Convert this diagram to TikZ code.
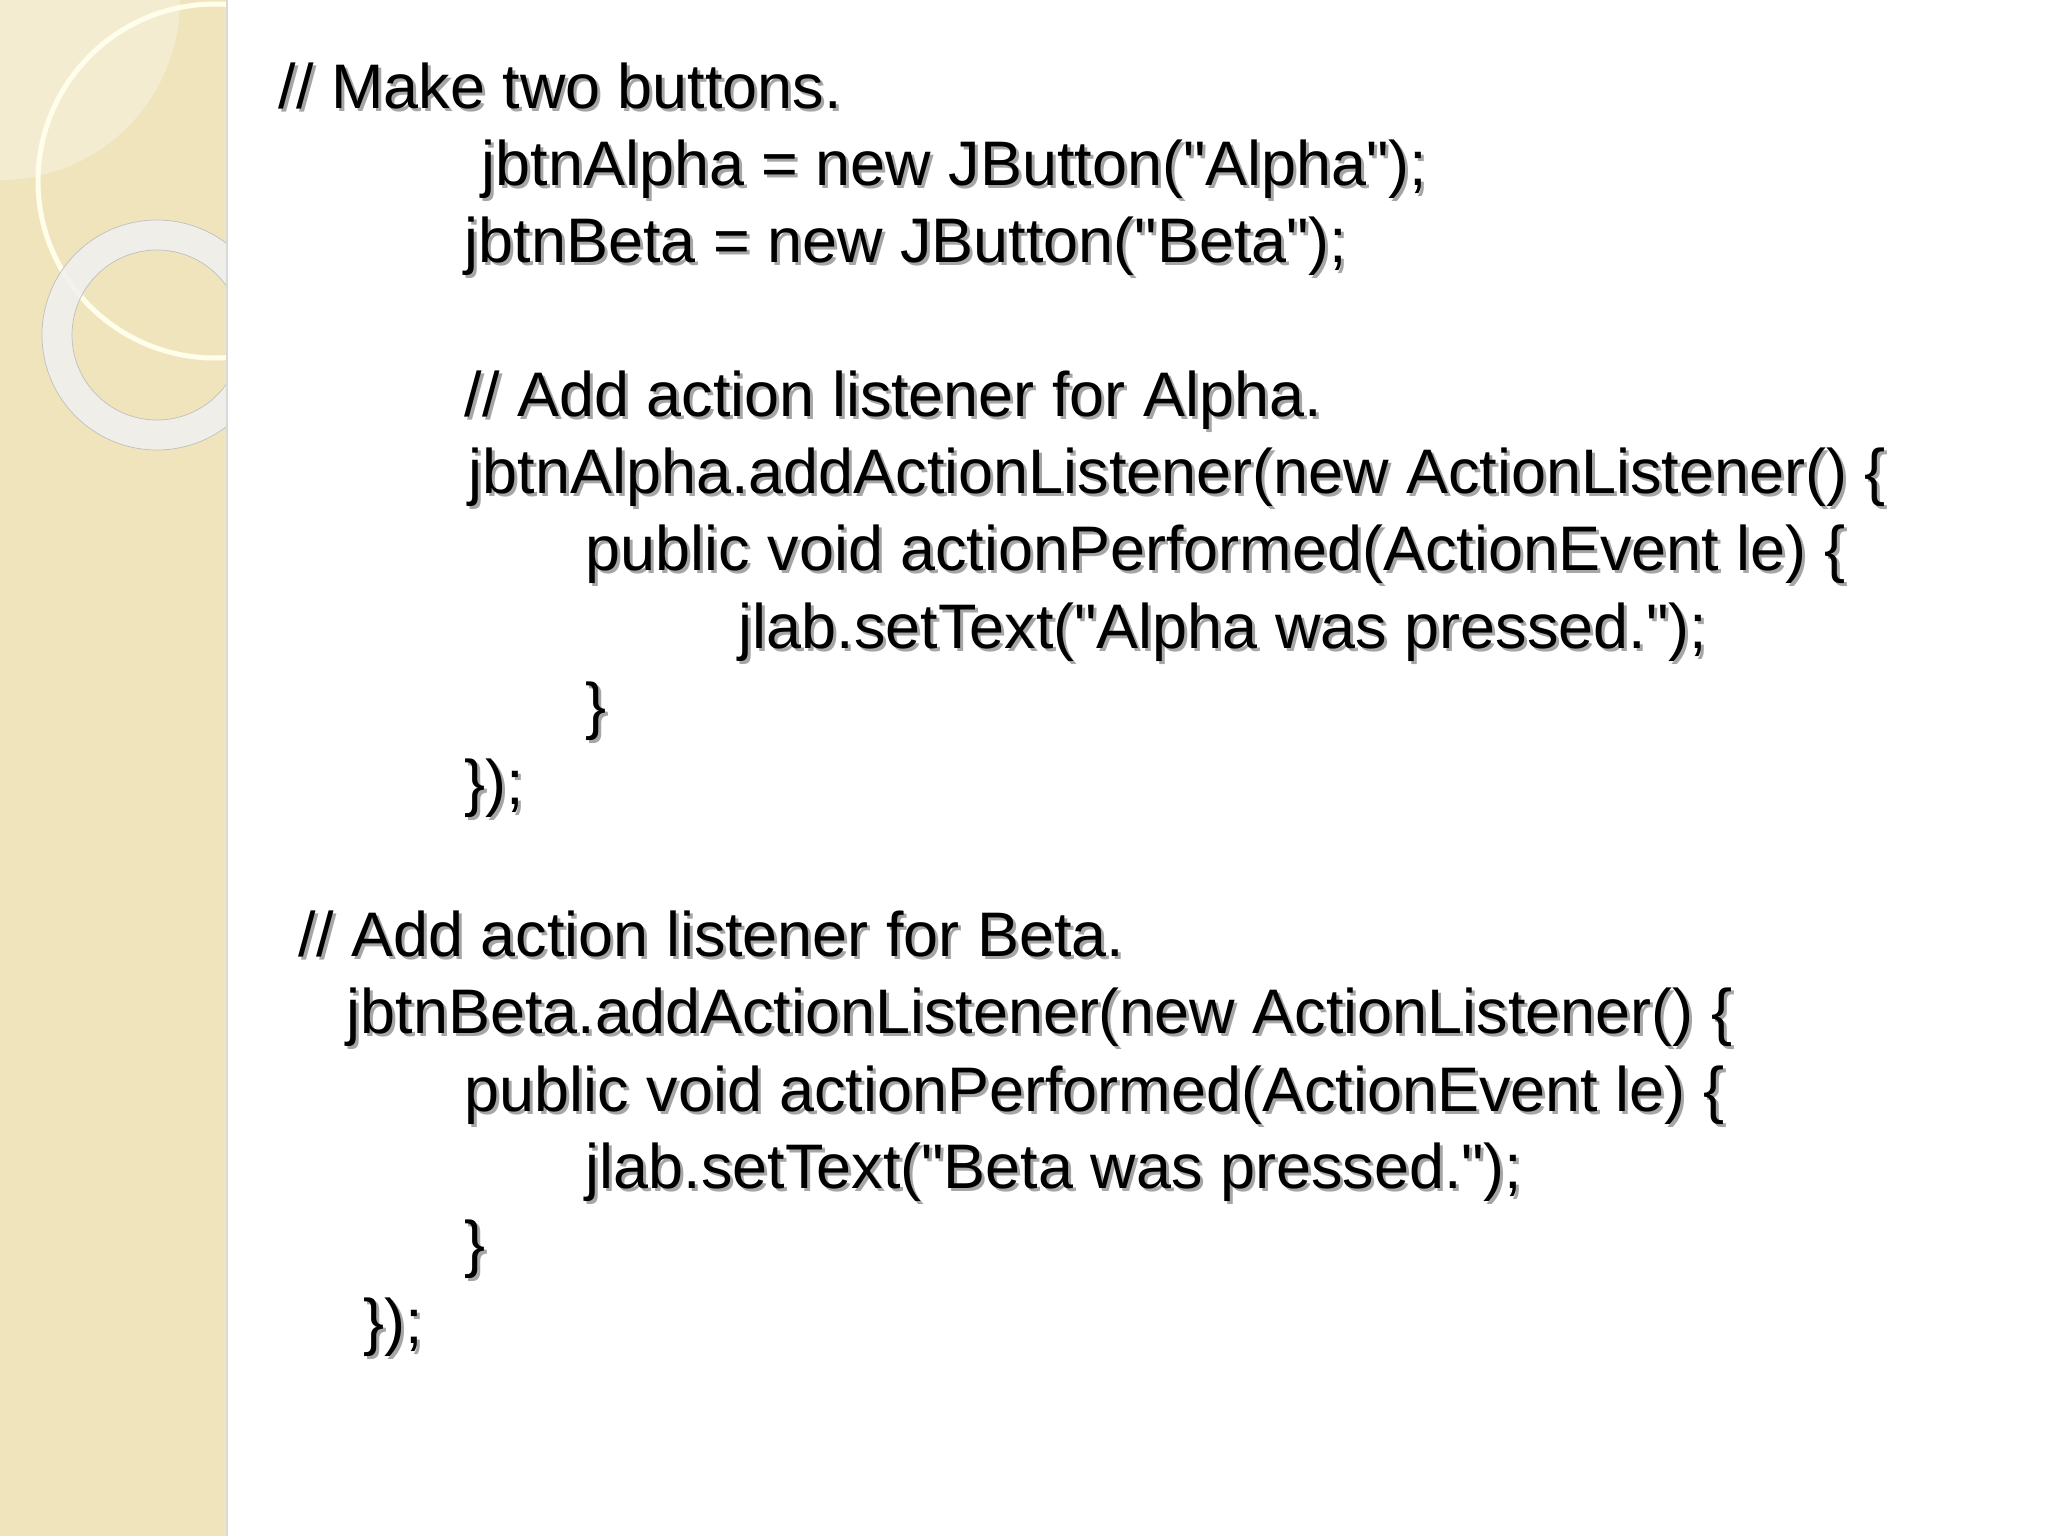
\documentclass[tikz,border=0pt]{standalone}
\usepackage{fontspec}
\setmainfont{Liberation Sans}[Ligatures=TeXOff]
\definecolor{strip}{RGB}{240,228,188}
\begin{document}
\begin{tikzpicture}[x=0.01cm,y=-0.01cm,
  code/.style={anchor=base west,inner sep=0pt,font=\fontsize{17.9}{22}\selectfont},
  shadow/.style={code,text=black!35}]
\useasboundingbox (0,0) rectangle (2048,1536);
\fill[white] (0,0) rectangle (2048,1536);
\fill[strip] (0,0) rectangle (227,1536);
\begin{scope}
\clip (0,0) rectangle (227,1536);
\fill[white,opacity=0.3] (0,0) circle (180);
\draw[line width=0.05cm,white!92!yellow] (215,181) circle (177);
\fill[white!88!gray,opacity=0.85,even odd rule] (157,335) circle (115) (157,335) circle (85);
\draw[black!25,line width=0.2pt] (157,335) circle (115) (157,335) circle (85);
\end{scope}
\draw[black!15,line width=0.6pt] (227,0) -- (227,1536);
\foreach \x/\y/\t [count=\i] in {
 278/88/{// Make two buttons.},
 481/165/{jbtnAlpha = new JButton("Alpha");},
 464/242/{jbtnBeta = new JButton("Beta");},
 464/396/{// Add action listener for Alpha.},
 468/473/{jbtnAlpha.addActionListener(new ActionListener() \{},
 585/550/{public void actionPerformed(ActionEvent le) \{},
 738/628/{jlab.setText("Alpha was pressed.");},
 585/707/{\}},
 464/784/{\});},
 298/936/{// Add action listener for Beta.},
 346/1013/{jbtnBeta.addActionListener(new ActionListener() \{},
 464/1091/{public void actionPerformed(ActionEvent le) \{},
 585/1168/{jlab.setText("Beta was pressed.");},
 464/1245/{\}},
 363/1323/{\});}}
{
  \node[shadow] (s\i) at (\x+3,\y+23) {\t};
  \node[code] (l\i) at (\x,\y+20) {\t};
}
\end{tikzpicture}
\end{document}
